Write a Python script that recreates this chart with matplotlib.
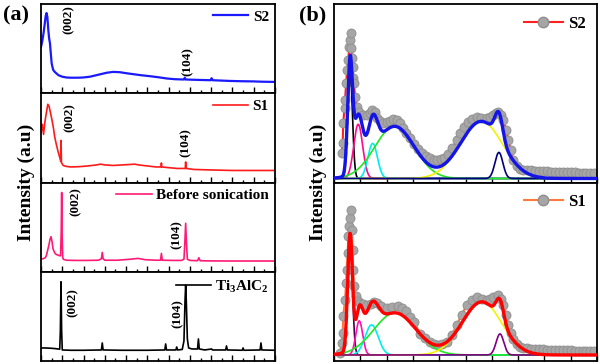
import matplotlib

matplotlib.use("Agg")
import matplotlib.pyplot as plt
import numpy as np
from matplotlib.lines import Line2D
from matplotlib.ticker import MultipleLocator

plt.rcParams["font.family"] = ["Liberation Serif", "DejaVu Serif"]
plt.rcParams["font.weight"] = "bold"
plt.rcParams["mathtext.fontset"] = "custom"
plt.rcParams["mathtext.rm"] = "Liberation Serif:bold"
plt.rcParams["mathtext.bf"] = "Liberation Serif:bold"

# --------------------------------------------------------------------------- #
# (a) XRD patterns: 2theta (deg) vs intensity (a.u.)
# --------------------------------------------------------------------------- #
s2_tt = [5.0, 5.3, 5.6, 5.9, 6.1, 6.3, 6.5, 6.7, 6.9, 7.1, 7.3, 7.5, 7.7, 7.9, 8.3,
         8.7, 9.1, 10, 11, 12, 13.5, 14.9, 16.5, 18, 19, 20.5, 22, 23.5, 25, 26.7,
         28.5, 30.6, 32.5, 34.6, 36.5, 38.6, 38.8, 39.0, 42, 44.9, 45.1, 45.3, 47,
         49.2, 52, 55, 57, 60]
s2_int = [46, 52, 60, 70, 77, 80, 76, 64, 55, 50, 40, 30, 26, 23, 21,
          19.5, 18, 16.5, 15.7, 15.5, 15.5, 15.7, 16.5, 18, 19, 20.5, 21.3, 21, 20, 19,
          18, 17, 16, 14.7, 14, 13.7, 15.5, 13.7, 13.3, 13, 15, 13, 12.7,
          12.3, 12, 11.8, 11.5, 11.3]

s1_tt = [5.0, 5.3, 5.6, 5.9, 6.2, 6.6, 6.9, 7.2, 7.5, 7.9, 8.2, 8.6, 9.0, 9.4, 9.65,
         9.72, 9.8, 10.2, 11, 12, 14, 16, 18, 19, 20, 22, 24, 26, 27, 28, 30, 32,
         33.2, 33.3, 33.4, 35, 37, 38.9, 39.0, 39.1, 41, 45, 50, 55, 60]
s1_int = [50, 58, 48, 60, 68, 78, 76, 70, 64, 55, 46, 38, 31, 25, 21,
          42, 20, 17, 16, 15.5, 15.8, 16.5, 17.5, 18.3, 17.5, 17, 17.5, 18, 18.3, 17.5, 16.5, 15.5,
          15.5, 19.5, 15.5, 14.8, 14, 14, 20.5, 14, 13, 12.5, 12, 12, 12]

bs_tt = [5.0, 5.5, 6.0, 6.25, 6.6, 6.88, 7.1, 7.35, 7.6, 7.82, 8.1, 8.36, 8.7, 9.0,
         9.3, 9.6, 9.75, 9.86, 9.95, 10.1, 10.3, 11, 13, 16, 18.5, 19.2, 19.4, 19.6,
         20, 23, 26, 27.8, 29.5, 32, 33.1, 33.3, 33.5, 36, 38, 38.6, 38.8, 39.0, 39.2,
         39.4, 40, 41.8, 42.1, 42.4, 45, 50, 55, 60]
bs_int = [12.7, 13, 14, 16, 22, 27, 32, 35, 30, 23, 20, 18, 17, 16.7,
          16, 16, 40, 79, 40, 14, 12.3, 11.5, 11.3, 11.3, 11.5, 13, 19.3, 13,
          11.5, 11.5, 12.5, 13.3, 12, 11.5, 11.5, 18.3, 11.5, 11.3, 11.3, 12.5, 28, 48.3, 28,
          12.5, 11.3, 11, 14, 11, 10.8, 10.7, 10.7, 10.7]

ti_tt = [5.0, 6, 7, 8, 9, 9.4, 9.55, 9.7, 9.85, 10.0, 12, 15, 19.2, 19.4, 19.6, 24,
         30, 34.1, 34.3, 34.5, 36.0, 36.7, 36.9, 37.1, 38.2, 38.6, 38.85, 39.0, 39.15,
         39.4, 39.7, 40.5, 41.8, 42.0, 42.2, 43.5, 45.1, 45.3, 47, 48.4, 48.6, 48.8,
         52.3, 52.5, 52.7, 56.5, 56.7, 56.9, 60]
ti_int = [13, 13, 12.8, 12.5, 12, 11.8, 30, 79, 30, 11, 10.7, 10.7, 11, 18, 11, 10.7,
          10.7, 11, 17, 11, 11, 11, 14, 11, 11.5, 20, 60, 75.7, 60,
          22, 13, 12, 12, 22, 12, 11, 12, 11, 11, 11, 15, 11,
          10.7, 13, 10.7, 11, 18, 11, 10.7]

xrd_labels = ["S2", "S1", "Before sonication", r"Ti$_\mathbf{3}$AlC$_\mathbf{2}$"]
xrd_colors = ["#1a1aff", "#ff1a1a", "#ff1a75", "black"]
# (002) and (104) label positions (2theta, intensity) per panel
hkl_002 = [(11.4, 73), (11.8, 65), (13.2, 70), (12.5, 58)]
hkl_104 = [(39.4, 32), (38.9, 40), (37.0, 37.5), (37.1, 47.5)]

# --------------------------------------------------------------------------- #
# (b) Peak fitting: measured points and fitted components
# --------------------------------------------------------------------------- #
s2_shift = [0.30, 0.33, 0.35, 0.40, 0.42, 0.46, 0.50, 0.54, 0.58, 0.61, 0.63, 0.66,
            0.69, 0.71, 0.74, 0.76, 0.80, 0.86, 0.95, 1.10, 1.24, 1.35, 1.45, 1.55,
            1.62, 1.75, 1.87, 2.00, 2.13, 2.25, 2.38, 2.50, 2.64, 2.75, 2.89, 3.05,
            3.20, 3.35, 3.50, 3.65, 3.80, 3.90, 4.05, 4.20, 4.35, 4.50, 4.66, 4.80,
            4.95, 5.10, 5.25, 5.42, 5.60, 5.81, 5.95, 6.06, 6.15, 6.25, 6.35, 6.44,
            6.55, 6.63, 6.72, 6.82, 6.95, 7.07, 7.2, 7.35, 7.5, 7.65, 7.8, 7.95, 8.1,
            8.25, 8.4, 8.55, 8.7, 8.85, 9.0, 9.15, 9.3, 9.45, 9.6, 9.75, 9.9]
s2_counts = [25, 35, 55, 70, 78, 95, 108, 118, 131, 138, 145, 130,
             120, 111, 100, 95, 81, 71, 66, 63, 63, 65, 68, 66,
             60, 57, 55, 56, 57, 59, 58, 55, 50, 45, 40, 34,
             29, 25, 22, 20, 18, 18, 19, 20, 24, 30, 38, 45,
             51, 56, 59, 61, 60, 60, 61, 63, 65, 66, 63, 58,
             48, 38, 28, 18, 12, 9.7, 8.5, 8, 8, 7.5, 7.5, 7, 7,
             6.8, 6.5, 6.5, 6.3, 6.3, 6, 6, 5.8, 5.7, 5.5, 5.4, 5.3]

s1_shift = [0.23, 0.30, 0.33, 0.35, 0.42, 0.46, 0.48, 0.52, 0.54, 0.58, 0.61, 0.63,
            0.67, 0.71, 0.73, 0.76, 0.84, 0.92, 0.99, 1.10, 1.24, 1.40, 1.52, 1.62,
            1.80, 2.00, 2.20, 2.44, 2.60, 2.75, 2.89, 3.05, 3.27, 3.45, 3.65, 3.80,
            3.97, 4.12, 4.29, 4.48, 4.67, 4.85, 5.05, 5.25, 5.43, 5.62, 5.81, 5.95,
            6.06, 6.25, 6.35, 6.44, 6.55, 6.63, 6.72, 6.82, 6.95, 7.07, 7.2, 7.35,
            7.5, 7.65, 7.8, 7.95, 8.1, 8.25, 8.4, 8.55, 8.7, 8.85, 9.0, 9.15, 9.3,
            9.45, 9.6, 9.75, 9.9]
s1_counts = [2, 12, 22, 39, 55, 72, 85, 102, 119, 129, 137, 145,
             125, 105, 85, 69, 59, 54, 52, 51, 50, 51, 53, 52,
             49, 47, 48, 49, 47, 44, 38, 33, 21, 17, 13, 11,
             9.7, 10.5, 13, 20, 30, 40, 50, 55, 58, 56, 55, 56,
             58, 60, 56, 50, 40, 30, 22, 16, 11, 8, 7, 6.5,
             6.3, 6, 5.8, 5.6, 5.4, 5.2, 5, 4.9, 4.8, 4.7, 4.5, 4.3, 4.1,
             4, 3.9, 3.8, 3.7]

# components: centre, height, width (sigma)
s2_centres = [0.61, 0.92, 1.47, 2.30, 5.60, 6.27]
s2_heights = [108, 54, 35, 52, 57, 26]
s2_widths = [0.09, 0.17, 0.18, 0.75, 0.80, 0.15]
s2_comp_colors = ["black", "#ff0a8c", "#00eeee", "#22e622", "#f2f200", "#00007f"]

s1_centres = [0.61, 0.96, 1.43, 2.32, 5.62, 6.31]
s1_heights = [116, 34, 30, 42, 53, 21]
s1_widths = [0.09, 0.13, 0.25, 0.80, 0.75, 0.145]
s1_comp_colors = ["#4a004a", "#ff10b0", "#00eeee", "#22e622", "#f2f200", "#800080"]


def gauss(x, c, h, w):
    return h * np.exp(-((x - c) ** 2) / (2 * w ** 2))


fig = plt.figure(figsize=(6, 3.64), dpi=100)

# ---- panel (a) ------------------------------------------------------------ #
a_x0, a_w = 41 / 600, 234 / 600
a_h = 89.25 / 364
a_bottom = 3 / 364
xrd_sets = [(s2_tt, s2_int), (s1_tt, s1_int), (bs_tt, bs_int), (ti_tt, ti_int)]
for i, (tt, inten) in enumerate(xrd_sets):
    ax = fig.add_axes([a_x0, a_bottom + (3 - i) * a_h, a_w, a_h])
    lw = 1.6 if i == 0 else 1.2
    ax.plot(tt, inten, color=xrd_colors[i], lw=lw, label=xrd_labels[i])
    ax.set_xlim(5, 60)
    ax.set_ylim(0, 89)
    ax.set_yticks([])
    ax.xaxis.set_major_locator(MultipleLocator(5))
    ax.xaxis.set_minor_locator(MultipleLocator(2.5))
    ax.tick_params(axis="x", which="both", direction="in", labelbottom=False, width=1)
    ax.tick_params(axis="x", which="major", length=4)
    ax.tick_params(axis="x", which="minor", length=2.5)
    for sp in ax.spines.values():
        sp.set_linewidth(1.3)
    ax.text(*hkl_002[i], "(002)", rotation=90, ha="center", va="center", fontsize=9.5)
    ax.text(*hkl_104[i], "(104)", rotation=90, ha="center", va="center", fontsize=9.5)
    ax.legend(loc="upper right", frameon=False, fontsize=11, handlelength=2.3,
              handletextpad=0.3, borderaxespad=0.1, borderpad=0.3)

# ---- panel (b) ------------------------------------------------------------ #
b_x0, b_w = 334 / 600, 263 / 600
b_h = 178.5 / 364
grid = np.linspace(0, 10, 1200)
fits = [
    (s2_shift, s2_counts, s2_centres, s2_heights, s2_widths, s2_comp_colors,
     "#1414e6", "#ff2020", "S2", (-4, 174)),
    (s1_shift, s1_counts, s1_centres, s1_heights, s1_widths, s1_comp_colors,
     "#ff0000", "#ff7a3c", "S1", (-6, 172)),
]
for i, (sx, sy, cen, hgt, wid, cols, fit_col, data_col, lab, ylim) in enumerate(fits):
    ax = fig.add_axes([b_x0, a_bottom + (1 - i) * b_h, b_w, b_h])
    ax.plot(sx, sy, color=data_col, lw=1.5, zorder=1)
    ax.plot(sx, sy, "o", ms=6.5, mfc="#a6a6a6", mec="#8e8e8e", mew=0.6, zorder=2)
    total = np.zeros_like(grid)
    for c, h, w, col in zip(cen, hgt, wid, cols):
        comp = gauss(grid, c, h, w)
        total += comp
        ax.plot(grid, comp, color=col, lw=1.2, zorder=3)
    ax.plot(grid, total, color=fit_col, lw=2.4, zorder=4)
    ax.set_xlim(0, 10)
    ax.set_ylim(*ylim)
    ax.set_yticks([])
    ax.xaxis.set_major_locator(MultipleLocator(1))
    ax.tick_params(axis="x", direction="in", labelbottom=False, length=4, width=1)
    for sp in ax.spines.values():
        sp.set_linewidth(1.3)
    handle = Line2D([], [], color=data_col, lw=1.5, marker="o", ms=7.5,
                    mfc="#a6a6a6", mec="#8e8e8e")
    ax.legend([handle], [lab], loc="upper right", frameon=False, fontsize=12,
              handlelength=2.3, handletextpad=0.3, borderaxespad=0.3, borderpad=0.4)

fig.text(26 / 600, 0.5, "Intensity (a.u)", rotation=90, ha="center", va="center",
         fontsize=14)
fig.text(318 / 600, 0.5, "Intensity (a.u)", rotation=90, ha="center", va="center",
         fontsize=14)
fig.text(16 / 600, 1 - 15 / 364, "(a)", ha="center", va="center", fontsize=16)
fig.text(313 / 600, 1 - 15 / 364, "(b)", ha="center", va="center", fontsize=16)

fig.savefig("out.png", dpi=100)
